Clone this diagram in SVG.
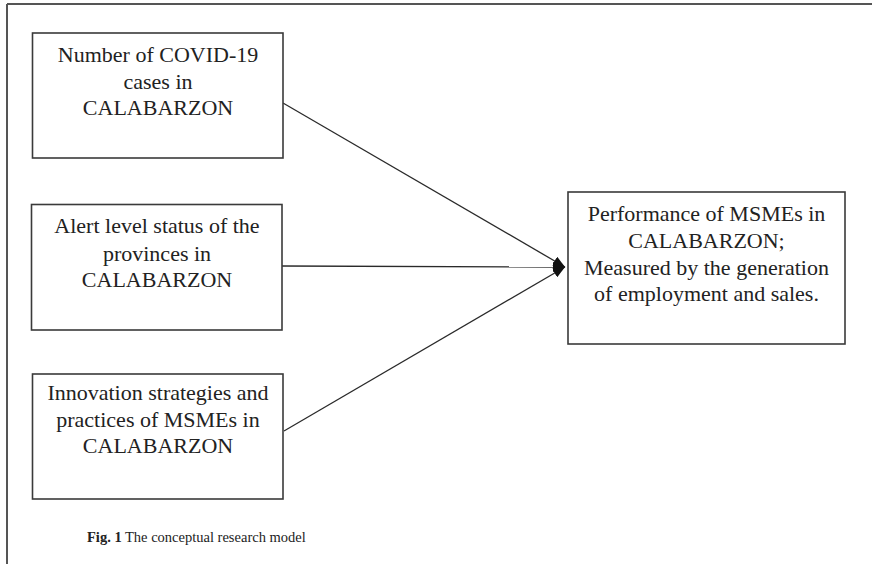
<svg xmlns="http://www.w3.org/2000/svg" width="872" height="564" viewBox="0 0 872 564">
<style>
.box{fill:#fff;stroke:#3a3a3a;stroke-width:1.6}
.t{font-family:"Liberation Serif","Times New Roman",serif;font-size:22px;fill:#222;text-anchor:middle}
.c{stroke:#2a2a2a;stroke-width:1.3;fill:none}
.cap{font-family:"Liberation Serif","Times New Roman",serif;font-size:14.5px;fill:#222}
</style>
<defs>
<marker id="ah" markerWidth="12" markerHeight="10" refX="12" refY="5" orient="auto" markerUnits="userSpaceOnUse">
<path d="M0,0 L12,5 L0,10 Z" fill="#111"/>
</marker>
</defs>
<rect width="872" height="564" fill="#fff"/>
<g id="frame">
<line x1="7" y1="4" x2="872" y2="4" stroke="#555" stroke-width="2"/>
<line x1="7" y1="4" x2="7" y2="564" stroke="#555" stroke-width="2"/>
</g>
<g id="connectors">
<line class="c" x1="283" y1="103" x2="565" y2="267" marker-end="url(#ah)"/>
<line class="c" x1="282" y1="266" x2="565" y2="267" marker-end="url(#ah)"/>
<line class="c" x1="284" y1="431" x2="565" y2="267" marker-end="url(#ah)"/>
</g>
<g id="n1">
<rect class="box" x="32.5" y="33" width="250.5" height="125"/>
<text class="t" x="158" y="62">Number of COVID-19</text>
<text class="t" x="158" y="89">cases in</text>
<text class="t" x="158" y="115">CALABARZON</text>
</g>
<g id="n2">
<rect class="box" x="31.5" y="204.5" width="250.5" height="125.5"/>
<text class="t" x="157" y="233">Alert level status of the</text>
<text class="t" x="157" y="261">provinces in</text>
<text class="t" x="157" y="287">CALABARZON</text>
</g>
<g id="n3">
<rect class="box" x="32.5" y="374" width="250.5" height="125"/>
<text class="t" x="158" y="400">Innovation strategies and</text>
<text class="t" x="158" y="427">practices of MSMEs in</text>
<text class="t" x="158" y="453">CALABARZON</text>
</g>
<g id="n4">
<rect class="box" x="568" y="192" width="277" height="152"/>
<text class="t" x="706.5" y="221">Performance of MSMEs in</text>
<text class="t" x="706.5" y="248">CALABARZON;</text>
<text class="t" x="706.5" y="275">Measured by the generation</text>
<text class="t" x="706.5" y="301">of employment and sales.</text>
</g>
<text class="cap" x="87" y="542"><tspan font-weight="bold">Fig. 1</tspan> The conceptual research model</text>
</svg>
